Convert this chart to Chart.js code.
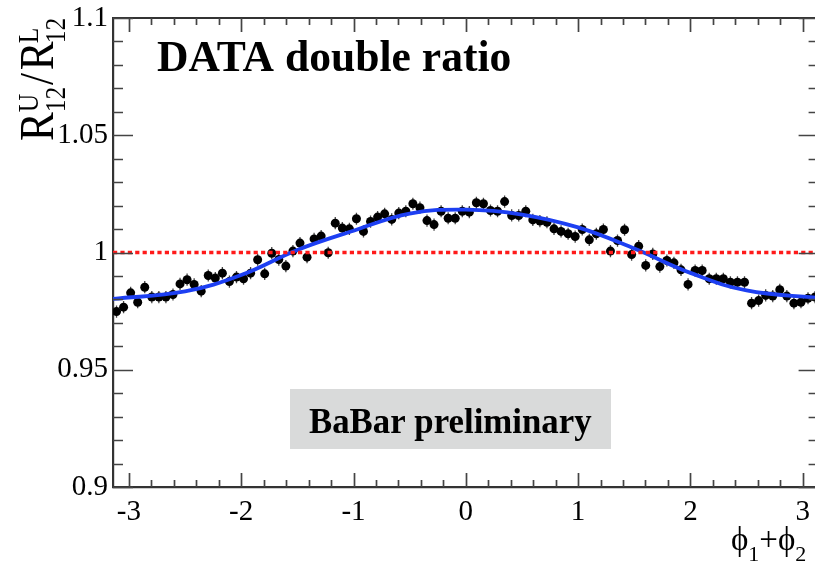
<!DOCTYPE html>
<html>
<head>
<meta charset="utf-8">
<script src="https://cdn.jsdelivr.net/npm/chart.js@4"></script>
<style>
  html, body { margin: 0; padding: 0; overflow: hidden; background: #fff; }
  #wrap { position: absolute; left: 0; top: 0; width: 830px; height: 561px; }
</style>
</head>
<body>
<div id="wrap"><canvas id="c"></canvas></div>
<script>
// ---- data ----
const N_BINS = 100;
const X_MIN = -Math.PI;
const X_MAX = Math.PI;
const Y_VALUES = [
  0.9748, 0.9767, 0.9828, 0.9788, 0.9852, 0.9810, 0.9810, 0.9810, 0.9821, 0.9866,
  0.9884, 0.9864, 0.9835, 0.9902, 0.9891, 0.9912, 0.9876, 0.9895, 0.9888, 0.9912,
  0.9969, 0.9909, 0.9997, 0.9970, 0.9942, 1.0006, 1.0040, 0.9980, 1.0058, 1.0070,
  0.9999, 1.0125, 1.0104, 1.0101, 1.0144, 1.0090, 1.0132, 1.0151, 1.0165, 1.0141,
  1.0168, 1.0176, 1.0208, 1.0191, 1.0136, 1.0119, 1.0176, 1.0146, 1.0146, 1.0176,
  1.0172, 1.0212, 1.0208, 1.0179, 1.0176, 1.0217, 1.0158, 1.0158, 1.0176, 1.0139,
  1.0134, 1.0129, 1.0101, 1.0090, 1.0080, 1.0068, 1.0098, 1.0054, 1.0080, 1.0098,
  1.0006, 1.0051, 1.0097, 0.9991, 1.0027, 0.9945, 0.9994, 0.9940, 0.9966, 0.9956,
  0.9926, 0.9864, 0.9923, 0.9923, 0.9888, 0.9888, 0.9888, 0.9873, 0.9873, 0.9873,
  0.9784, 0.9795, 0.9817, 0.9814, 0.9841, 0.9814, 0.9784, 0.9788, 0.9805, 0.9810
];
const Y_ERR = 0.0026;
const FIT_X = [-3.1416, -2.5, -2.0, -1.5, -1.0, -0.5, 0.0, 0.5, 1.0, 1.5, 2.0, 2.5, 3.1416];
const FIT_Y = [0.9802, 0.9834, 0.9904, 1.0011, 1.0093, 1.0166, 1.0183, 1.0162, 1.0107, 1.0017, 0.9913, 0.9838, 0.9806];
const REF_LEVEL = 1.0;
const X_TICKS = [-3, -2, -1, 0, 1, 2, 3];
const Y_TICKS = [0.9, 0.95, 1.0, 1.05, 1.1];
const Y_MIN = 0.9, Y_MAX = 1.1;
const TITLE = 'DATA double ratio';
const BOX_TEXT = 'BaBar preliminary';

// ---- build library structures ----
const binW = (X_MAX - X_MIN) / N_BINS;
const points = Y_VALUES.map((v, i) => ({ x: X_MIN + (i + 0.5) * binW, y: v }));
const fitPts = FIT_X.map((x, i) => ({ x, y: FIT_Y[i] }));
const refPts = [{ x: X_MIN, y: REF_LEVEL }, { x: X_MAX, y: REF_LEVEL }];

const SERIF = "'Liberation Serif', 'DejaVu Serif', serif";

const errorBars = {
  id: 'errorBars',
  beforeDatasetsDraw(chart) {
    const { ctx, scales: { x, y } } = chart;
    ctx.save();
    ctx.strokeStyle = '#444';
    ctx.lineWidth = 1.3;
    points.forEach(p => {
      const px = x.getPixelForValue(p.x);
      const py = y.getPixelForValue(p.y);
      ctx.beginPath();
      ctx.moveTo(px, y.getPixelForValue(p.y - Y_ERR));
      ctx.lineTo(px, y.getPixelForValue(p.y + Y_ERR));
      ctx.moveTo(x.getPixelForValue(p.x - binW / 2), py);
      ctx.lineTo(x.getPixelForValue(p.x + binW / 2), py);
      ctx.stroke();
    });
    ctx.restore();
  }
};

const frameTicks = {
  id: 'frameTicks',
  afterDatasetsDraw(chart) {
    const { ctx, chartArea: a, scales: { x, y } } = chart;
    ctx.save();
    ctx.strokeStyle = '#333';
    ctx.lineWidth = 2.2;
    ctx.beginPath();
    ctx.moveTo(a.left, a.top);
    ctx.lineTo(a.right, a.top);
    ctx.lineTo(a.right, a.bottom);
    ctx.stroke();
    ctx.strokeStyle = '#444';
    ctx.lineWidth = 1.7;
    ctx.beginPath();
    for (let k = -20; k <= 20; k++) {
      const v = k * 0.2;
      if (v < x.min || v > x.max) continue;
      const len = (k % 5 === 0) ? 14 : 7;
      const px = Math.round(x.getPixelForValue(v)) + 0.5;
      ctx.moveTo(px, a.bottom); ctx.lineTo(px, a.bottom - len);
      ctx.moveTo(px, a.top); ctx.lineTo(px, a.top + len);
    }
    for (let k = 90; k <= 110; k++) {
      const v = k / 100;
      const len = (k % 5 === 0) ? 20 : 10;
      const py = Math.round(y.getPixelForValue(v)) + 0.5;
      ctx.moveTo(a.left, py); ctx.lineTo(a.left + len, py);
      ctx.moveTo(a.right, py); ctx.lineTo(a.right - len, py);
    }
    ctx.stroke();
    ctx.restore();
  }
};

const texts = {
  id: 'texts',
  afterDraw(chart) {
    const { ctx } = chart;
    ctx.save();
    ctx.fillStyle = '#000';
    ctx.textBaseline = 'alphabetic';
    ctx.textAlign = 'left';
    // title
    ctx.font = `bold 43.6px ${SERIF}`;
    ctx.fillText(TITLE, 157, 71);
    // BaBar box
    ctx.fillStyle = '#d9dada';
    ctx.fillRect(290, 389, 321, 60);
    ctx.fillStyle = '#000';
    ctx.font = `bold 34.8px ${SERIF}`;
    ctx.fillText(BOX_TEXT, 309, 433);

    // y-axis title: R^U_12 / R^L_12, rotated
    ctx.save();
    ctx.translate(53, 141);
    ctx.rotate(-Math.PI / 2);
    ctx.scale(0.88, 1);
    const big = `49px ${SERIF}`, small = `29px ${SERIF}`;
    let cx = 0;
    ctx.font = big; ctx.fillText('R', cx, 0); cx += ctx.measureText('R').width;
    ctx.font = small; ctx.fillText('U', cx, -15); ctx.fillText('12', cx, 12);
    cx += Math.max(ctx.measureText('U').width, ctx.measureText('12').width) + 2;
    ctx.font = big; ctx.fillText('/', cx, 0); cx += ctx.measureText('/').width + 3;
    ctx.fillText('R', cx, 0); cx += ctx.measureText('R').width - 2;
    ctx.font = small; ctx.fillText('L', cx, -15); ctx.fillText('12', cx, 12);
    ctx.restore();

    // x-axis title: phi_1 + phi_2
    const PHI = '\u03D5';
    const xb = 550;
    let tx = 731;
    ctx.font = `33px ${SERIF}`;
    ctx.fillText(PHI, tx, xb); tx += ctx.measureText(PHI).width;
    ctx.font = `22px ${SERIF}`;
    ctx.fillText('1', tx, xb + 11); tx += ctx.measureText('1').width;
    ctx.font = `33px ${SERIF}`;
    ctx.fillText('+', tx, xb); tx += ctx.measureText('+').width;
    ctx.fillText(PHI, tx, xb); tx += ctx.measureText(PHI).width;
    ctx.font = `22px ${SERIF}`;
    ctx.fillText('2', tx, xb + 11);
    ctx.restore();
  }
};

new Chart(document.getElementById('c'), {
  type: 'scatter',
  data: {
    datasets: [
      {
        type: 'line', data: refPts, borderColor: '#ff1a1a', borderWidth: 3.4,
        borderDash: [4.2, 3.2], pointRadius: 0, fill: false
      },
      {
        type: 'line', data: fitPts, borderColor: '#1d3ff2', borderWidth: 3.8,
        tension: 0.4, pointRadius: 0, fill: false
      },
      {
        data: points, backgroundColor: '#000', borderColor: '#000',
        pointRadius: 4.5, borderWidth: 0
      }
    ]
  },
  options: {
    responsive: true,
    maintainAspectRatio: false,
    animation: false,
    events: [],
    layout: { padding: { left: 0, top: 18, right: 11.4, bottom: 0 } },
    plugins: { legend: { display: false }, tooltip: { enabled: false } },
    scales: {
      x: {
        type: 'linear', min: X_MIN, max: X_MAX,
        afterBuildTicks: (ax) => { ax.ticks = X_TICKS.map(v => ({ value: v })); },
        afterFit: (ax) => { ax.height = 74; },
        grid: { display: false },
        border: { display: true, color: '#333', width: 2.2 },
        ticks: {
          color: '#000', padding: 0, maxRotation: 0, autoSkip: false,
          font: { family: SERIF, size: 29 },
          callback: (v) => String(v)
        }
      },
      y: {
        type: 'linear', min: Y_MIN, max: Y_MAX,
        afterBuildTicks: (ax) => { ax.ticks = Y_TICKS.map(v => ({ value: v })); },
        afterFit: (ax) => { ax.width = 113; },
        grid: { display: false },
        border: { display: true, color: '#333', width: 2.2 },
        ticks: {
          color: '#000', padding: -3, autoSkip: false,
          font: { family: SERIF, size: 29 },
          callback: (v) => String(Math.round(v * 100) / 100)
        }
      }
    }
  },
  plugins: [errorBars, frameTicks, texts]
});
</script>
</body>
</html>
